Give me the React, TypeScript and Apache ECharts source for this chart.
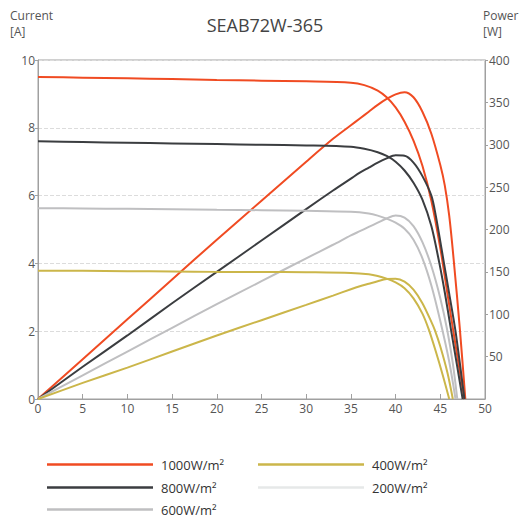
import React, { useEffect, useRef } from "react";
import * as echarts from "echarts";

const titleText = "SEAB72W-365";
const legendNames = ["1000W/m²", "800W/m²", "600W/m²", "400W/m²", "200W/m²"];
const colors = ["#f04b22", "#3b3d40", "#bfbfc1", "#cbb64a", "#e6e8e8"];
const xTicks = [0, 50, 5];
const currentAxis = [0, 10, 2];
const powerAxis = [0, 400, 50];

const current1000 = [[0, 9.5], [5, 9.48], [10, 9.46], [15, 9.44], [20, 9.41], [25, 9.39], [30, 9.37], [35, 9.33], [36.5, 9.26], [38, 9.1], [39, 8.9], [40, 8.6], [41, 8.18], [42, 7.62], [43, 6.88], [44, 5.85], [45, 4.45], [45.8, 3.1], [46.4, 2.1], [47.1, 0.95], [47.7, 0]];
const power1000 = [[0, 0], [5, 47], [10, 94], [15, 141], [20, 188], [25, 234], [30, 280], [33, 307], [35, 323], [36, 331], [37, 339], [38, 347], [39, 354], [40, 359.5], [41, 362], [42, 356], [43, 339], [44, 313], [45, 276], [45.5, 252], [46, 216], [46.5, 164], [47.2, 81], [47.8, 0]];

const current800 = [[0, 7.6], [5, 7.58], [10, 7.56], [15, 7.54], [20, 7.52], [25, 7.5], [30, 7.48], [35, 7.44], [36.5, 7.38], [38, 7.28], [39, 7.17], [40, 7.0], [41, 6.74], [42, 6.38], [43, 5.88], [44, 5.1], [44.9, 4.0], [45.5, 3.15], [46.2, 2.04], [46.9, 0.95], [47.5, 0]];
const power800 = [[0, 0], [5, 38], [10, 75], [15, 113], [20, 150], [25, 187], [30, 224], [33, 246], [35, 260], [36, 267], [37, 273], [38, 279], [39, 284], [40, 287.5], [41, 287], [42, 279], [43, 263], [44, 240], [44.5, 216], [45.4, 161], [46, 124], [46.7, 80], [47.7, 0]];

const current600 = [[0, 5.63], [5, 5.62], [10, 5.61], [15, 5.6], [20, 5.58], [25, 5.57], [30, 5.55], [35, 5.52], [37, 5.47], [38, 5.41], [39, 5.32], [40, 5.2], [41, 5.02], [42, 4.7], [43, 4.15], [44, 3.35], [45, 2.3], [46, 1.1], [46.7, 0]];
const power600 = [[0, 0], [5, 28], [10, 56], [15, 84], [20, 112], [25, 139], [30, 166], [33, 182], [35, 193], [36, 198], [37, 203], [38, 208], [39, 213], [40, 216.5], [41, 214], [42, 204], [43, 185], [44, 157], [45, 119], [45.8, 80], [46.4, 42], [46.9, 0]];

const current400 = [[0, 3.78], [5, 3.78], [10, 3.77], [15, 3.76], [20, 3.75], [25, 3.75], [30, 3.74], [35, 3.72], [37, 3.68], [38, 3.63], [39, 3.55], [40, 3.44], [41, 3.27], [42, 2.97], [43, 2.52], [43.7, 2.06], [44.5, 1.4], [45.3, 0.68], [46, 0]];
const power400 = [[0, 0], [5, 19], [10, 37], [15, 56], [20, 75], [25, 93], [30, 111], [33, 122], [35, 129.5], [36, 133], [37, 136], [38, 139], [39, 141.5], [40, 142], [41, 138.5], [42, 129], [43, 113], [44, 91], [44.4, 81], [45, 62], [45.8, 31], [46.4, 0]];

const current200: number[][] = [];
const power200: number[][] = [];

const currentSets = [current1000, current800, current600, current400, current200];
const powerSets = [power1000, power800, power600, power400, power200];

const legendPos = [
  { left: 42, top: 453 },
  { left: 42, top: 476 },
  { left: 42, top: 498 },
  { left: 253, top: 453 },
  { left: 253, top: 476 },
];

const FONT = "'Open Sans', 'DejaVu Sans', sans-serif";

export default function App() {
  const ref = useRef<HTMLDivElement>(null);
  useEffect(() => {
    if (!ref.current) return;
    const chart = echarts.init(ref.current, null, { renderer: "svg" });
    const series: any[] = [];
    legendNames.forEach((name, i) => {
      const base = {
        name,
        type: "line",
        symbol: "none",
        showSymbol: false,
        smooth: 0.3,
        lineStyle: { color: colors[i], width: 2 },
        itemStyle: { color: colors[i] },
      };
      series.push({ ...base, yAxisIndex: 0, data: currentSets[i] });
      series.push({ ...base, yAxisIndex: 1, data: powerSets[i] });
    });
    const legends = legendNames.map((name, i) => ({
      data: [name],
      left: legendPos[i].left,
      top: legendPos[i].top,
      icon: "rect",
      itemWidth: 106,
      itemHeight: 2.5,
      selectedMode: false,
      textStyle: { color: "#333", fontSize: 13, fontFamily: FONT, padding: [0, 0, 0, 3] },
    }));
    chart.setOption({
      animation: false,
      backgroundColor: "#fff",
      title: {
        text: titleText,
        left: "center",
        top: 11,
        textStyle: { color: "#444", fontSize: 18, fontWeight: "normal", fontFamily: FONT },
      },
      graphic: [
        { type: "text", left: 10, top: 9, style: { text: "Current", fill: "#555", fontSize: 12, fontFamily: FONT } },
        { type: "text", left: 10, top: 25, style: { text: "[A]", fill: "#555", fontSize: 12, fontFamily: FONT } },
        { type: "text", left: 483, top: 9, style: { text: "Power", fill: "#555", fontSize: 12, fontFamily: FONT } },
        { type: "text", left: 483, top: 25, style: { text: "[W]", fill: "#555", fontSize: 12, fontFamily: FONT } },
      ],
      legend: legends,
      grid: { left: 38, right: 45, top: 60, bottom: 119, show: true, borderColor: "#a0a0a0", borderWidth: 1 },
      xAxis: {
        type: "value",
        min: xTicks[0],
        max: xTicks[1],
        interval: xTicks[2],
        axisLine: { lineStyle: { color: "#a0a0a0" } },
        axisTick: { show: true, inside: true, length: 5, lineStyle: { color: "#a0a0a0" } },
        axisLabel: { color: "#555", fontSize: 12, fontFamily: FONT, margin: 3 },
        splitLine: { show: false },
      },
      yAxis: [
        {
          type: "value",
          min: currentAxis[0],
          max: currentAxis[1],
          interval: currentAxis[2],
          axisLine: { show: true, lineStyle: { color: "#a0a0a0" } },
          axisTick: { show: true, length: 3, lineStyle: { color: "#a0a0a0" } },
          axisLabel: { color: "#555", fontSize: 12, fontFamily: FONT, margin: 3 },
          splitLine: { show: true, lineStyle: { color: "#dcdcdc", type: "dashed", width: 1 } },
        },
        {
          type: "value",
          min: powerAxis[0],
          max: powerAxis[1],
          interval: powerAxis[2],
          position: "right",
          axisLine: { show: true, lineStyle: { color: "#a0a0a0" } },
          axisTick: { show: true, length: 3, lineStyle: { color: "#a0a0a0" } },
          axisLabel: { color: "#555", fontSize: 12, fontFamily: FONT, margin: 4, showMinLabel: false },
          splitLine: { show: false },
        },
      ],
      series,
    });
    return () => chart.dispose();
  }, []);
  return <div ref={ref} style={{ position: "fixed", left: 0, top: 0, width: 530, height: 518 }} />;
}
